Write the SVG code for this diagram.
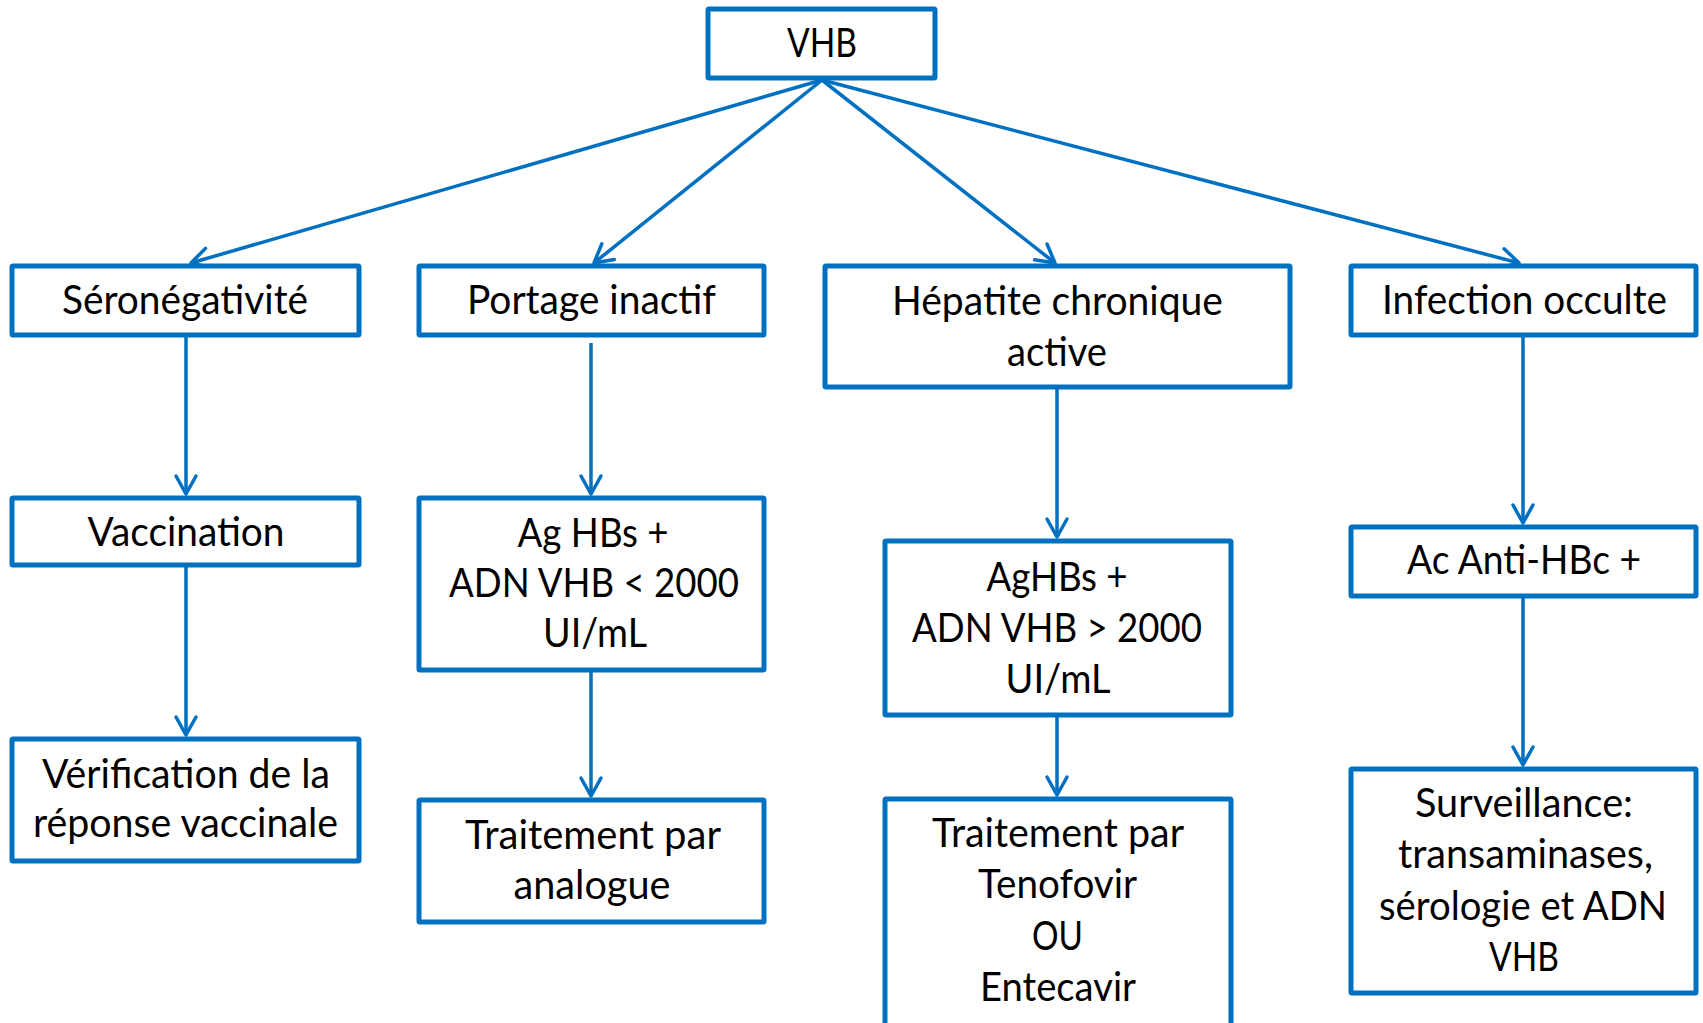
<svg xmlns="http://www.w3.org/2000/svg" width="1703" height="1023" viewBox="0 0 1703 1023">
<defs>
<style>
.box{fill:#ffffff;stroke:#0070C0;stroke-width:5;stroke-linejoin:round}
.con{fill:none;stroke:#0070C0;stroke-width:3.5}
text{font-family:Lato,"Liberation Sans",Arial,sans-serif;font-size:40px;fill:#000000;text-anchor:middle}
</style>
<marker id="arr" viewBox="-22 -14 26 28" markerWidth="26" markerHeight="28" refX="0" refY="0" orient="auto" markerUnits="userSpaceOnUse">
<path d="M-18,-10 L0,0 L-18,10" fill="none" stroke="#0070C0" stroke-width="3.5" stroke-linecap="round" stroke-linejoin="round"/>
</marker>
</defs>
<rect width="1703" height="1023" fill="#ffffff"/>
<g id="connectors">
<line class="con" x1="822" y1="80" x2="191" y2="263" marker-end="url(#arr)"/>
<line class="con" x1="822" y1="80" x2="594" y2="263" marker-end="url(#arr)"/>
<line class="con" x1="822" y1="80" x2="1055" y2="263" marker-end="url(#arr)"/>
<line class="con" x1="822" y1="80" x2="1519" y2="263" marker-end="url(#arr)"/>
<line class="con" x1="186" y1="337" x2="186" y2="494" marker-end="url(#arr)"/>
<line class="con" x1="186" y1="567" x2="186" y2="735" marker-end="url(#arr)"/>
<line class="con" x1="591" y1="343" x2="591" y2="494" marker-end="url(#arr)"/>
<line class="con" x1="591" y1="672" x2="591" y2="796" marker-end="url(#arr)"/>
<line class="con" x1="1057" y1="389" x2="1057" y2="537" marker-end="url(#arr)"/>
<line class="con" x1="1057" y1="717" x2="1057" y2="795" marker-end="url(#arr)"/>
<line class="con" x1="1523" y1="337" x2="1523" y2="523" marker-end="url(#arr)"/>
<line class="con" x1="1523" y1="598" x2="1523" y2="765" marker-end="url(#arr)"/>
</g>
<g id="vhb"><rect class="box" x="708" y="9" width="227" height="69" rx="1"/><text x="822" y="57" textLength="70" lengthAdjust="spacingAndGlyphs">VHB</text></g>
<g id="seroneg"><rect class="box" x="12" y="266" width="347" height="69" rx="1"/><text x="185" y="314" textLength="246" lengthAdjust="spacingAndGlyphs">Séronégativité</text></g>
<g id="portage"><rect class="box" x="419" y="266" width="345" height="69" rx="1"/><text x="591.5" y="314" textLength="249" lengthAdjust="spacingAndGlyphs">Portage inactif</text></g>
<g id="hepatite"><rect class="box" x="825" y="266" width="465" height="121" rx="1"/><text x="1057.5" y="315" textLength="331" lengthAdjust="spacingAndGlyphs">Hépatite chronique</text><text x="1057" y="366" textLength="100" lengthAdjust="spacingAndGlyphs">active</text></g>
<g id="occulte"><rect class="box" x="1351" y="266" width="345" height="69" rx="1"/><text x="1524.5" y="314" textLength="285" lengthAdjust="spacingAndGlyphs">Infection occulte</text></g>
<g id="vaccination"><rect class="box" x="12" y="498" width="347" height="67" rx="1"/><text x="186" y="546" textLength="197" lengthAdjust="spacingAndGlyphs">Vaccination</text></g>
<g id="verification"><rect class="box" x="12" y="739" width="347" height="122" rx="1"/><text x="186" y="788" textLength="288" lengthAdjust="spacingAndGlyphs">Vérification de la</text><text x="185.5" y="837" textLength="305" lengthAdjust="spacingAndGlyphs">réponse vaccinale</text></g>
<g id="aghbs-portage"><rect class="box" x="419" y="498" width="345" height="172" rx="1"/><text x="593" y="547" textLength="151" lengthAdjust="spacingAndGlyphs">Ag HBs +</text><text x="594" y="597" textLength="290" lengthAdjust="spacingAndGlyphs">ADN VHB &lt; 2000</text><text x="595" y="647" textLength="104" lengthAdjust="spacingAndGlyphs">UI/mL</text></g>
<g id="traitement-analogue"><rect class="box" x="419" y="800" width="345" height="122" rx="1"/><text x="593" y="849" textLength="256" lengthAdjust="spacingAndGlyphs">Traitement par</text><text x="592" y="899" textLength="157" lengthAdjust="spacingAndGlyphs">analogue</text></g>
<g id="aghbs-hepatite"><rect class="box" x="885" y="541" width="346" height="174" rx="1"/><text x="1057" y="591" textLength="141" lengthAdjust="spacingAndGlyphs">AgHBs +</text><text x="1057" y="642" textLength="290" lengthAdjust="spacingAndGlyphs">ADN VHB &gt; 2000</text><text x="1058" y="693" textLength="105" lengthAdjust="spacingAndGlyphs">UI/mL</text></g>
<g id="traitement-tenofovir"><rect class="box" x="885" y="799" width="346" height="232" rx="1"/><text x="1058" y="847" textLength="252" lengthAdjust="spacingAndGlyphs">Traitement par</text><text x="1057.5" y="898" textLength="159" lengthAdjust="spacingAndGlyphs">Tenofovir</text><text x="1057.5" y="950" textLength="51" lengthAdjust="spacingAndGlyphs">OU</text><text x="1058" y="1001" textLength="156" lengthAdjust="spacingAndGlyphs">Entecavir</text></g>
<g id="anti-hbc"><rect class="box" x="1351" y="527" width="345" height="69" rx="1"/><text x="1524" y="574" textLength="234" lengthAdjust="spacingAndGlyphs">Ac Anti-HBc +</text></g>
<g id="surveillance"><rect class="box" x="1351" y="769" width="345" height="224" rx="1"/><text x="1524" y="817" textLength="218" lengthAdjust="spacingAndGlyphs">Surveillance:</text><text x="1525.5" y="868" textLength="255" lengthAdjust="spacingAndGlyphs">transaminases,</text><text x="1523" y="920" textLength="288" lengthAdjust="spacingAndGlyphs">sérologie et ADN</text><text x="1524" y="971" textLength="70" lengthAdjust="spacingAndGlyphs">VHB</text></g>
</svg>
